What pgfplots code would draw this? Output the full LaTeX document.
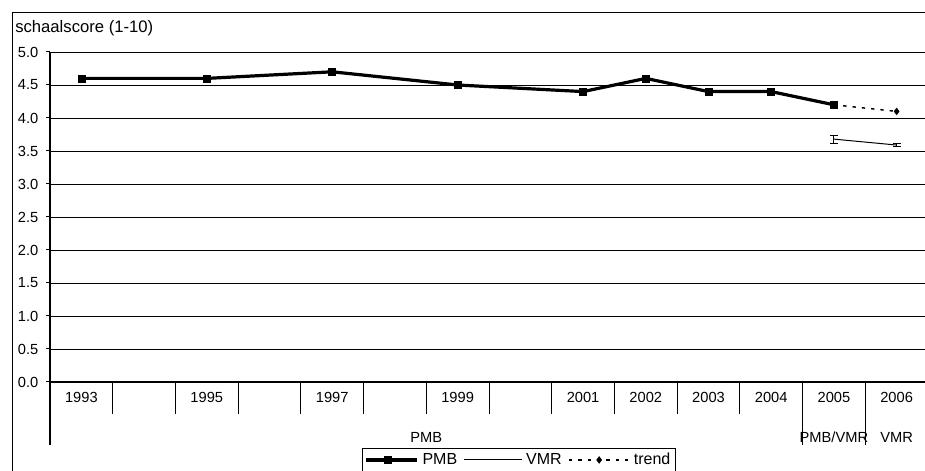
\documentclass[border=0pt]{standalone}
\usepackage{pgfplots}
\pgfplotsset{compat=1.18}
\usepackage{fontspec}
\setmainfont{Liberation Sans}
\begin{document}
\begin{tikzpicture}
% one pixel of the reference = 0.75pt
\path[use as bounding box] (0pt,0pt) rectangle (693.75pt,353.25pt);
% outer chart frame (right and bottom edges fall outside the picture)
\draw[line width=0.75pt] (9pt,-10pt) -- (9pt,343.5pt) -- (710pt,343.5pt);
\node[anchor=west, font=\fontsize{12.5}{14}\selectfont, inner sep=0pt] at (11.25pt,332.25pt) {schaalscore (1-10)};
\begin{axis}[
    at={(37.5pt,66.75pt)}, anchor=south west,
    scale only axis, width=658.5pt, height=247.5pt,
    xmin=-0.5, xmax=13.5, ymin=0, ymax=5,
    axis x line*=bottom, axis y line*=left,
    axis line style={line width=0.75pt},
    tick align=outside,
    major tick length=24pt, minor tick length=3pt,
    xtick={-0.5,0.5,1.5,2.5,3.5,4.5,5.5,6.5,7.5,8.5,9.5,10.5,11.5,12.5,13.5},
    x tick label as interval,
    xticklabels={1993,,1995,,1997,,1999,,2001,2002,2003,2004,2005,2006},
    xticklabel style={yshift=19.5pt},
    extra x ticks={-0.5,11.5,12.5}, extra x tick labels={},
    extra x tick style={major tick length=47.25pt},
    ytick={0,0.5,...,5}, minor ytick={0,0.5,...,5},
    major y tick style={draw=none},
    yticklabel style={xshift=18.75pt},
    tick style={line width=0.75pt, black},
    ymajorgrids, grid style={black, line width=0.6pt},
    yticklabel style={/pgf/number format/.cd, fixed, fixed zerofill, precision=1, assume math mode=true},
    ticklabel style={font=\fontsize{11}{13}\selectfont},
    legend style={at={(0.534,-0.2)}, anchor=north, draw=black, line width=0.75pt,
        legend columns=-1, font=\fontsize{12}{14}\selectfont,
        inner xsep=2pt, inner ysep=1.5pt,
        /tikz/every odd column/.append style={column sep=1pt},
        /tikz/every even column/.append style={column sep=3pt}},
    legend cell align=left,
    clip=false,
]
\addplot[black, line width=2.4pt, mark=square*, mark size=2.6pt, mark options={line width=0.4pt},
    legend image code/.code={\draw[mark repeat=2, mark phase=2] plot coordinates {(0pt,0pt) (16pt,0pt) (38pt,0pt)};}]
    coordinates {(0,4.6) (2,4.6) (4,4.7) (6,4.5) (8,4.4) (9,4.6) (10,4.4) (11,4.4) (12,4.2)};
\addlegendentry{PMB}
\addplot[black, line width=0.75pt, mark=none,
    legend image code/.code={\draw (0pt,0pt) -- (43pt,0pt);},
    error bars/.cd, y dir=both, y explicit,
    error mark options={rotate=90, mark size=3pt, line width=0.75pt},
    error bar style={line width=0.75pt}]
    coordinates {(12,3.68) +- (0,0.06) (13,3.59) +- (0,0.025)};
\addlegendentry{VMR}
\addlegendimage{black, line width=1.1pt, dash pattern=on 2.5pt off 4.5pt, mark=diamond*, mark size=2.5pt, mark options={solid, line width=0.4pt},
    legend image code/.code={\draw[mark repeat=2, mark phase=2] plot coordinates {(0pt,0pt) (22.5pt,0pt) (45pt,0pt)};}}
\addlegendentry{trend}
\addplot[forget plot, black, line width=1.1pt, dash pattern=on 2.5pt off 4.5pt, mark=diamond*, mark size=2.5pt,
    mark options={solid, line width=0.4pt}, mark indices={2}]
    coordinates {(12,4.2) (13,4.1)};
\node[font=\fontsize{11}{13}\selectfont] at (axis cs:5.5,0) [yshift=-41.25pt] {PMB};
\node[font=\fontsize{11}{13}\selectfont] at (axis cs:12,0) [yshift=-41.25pt] {PMB/VMR};
\node[font=\fontsize{11}{13}\selectfont] at (axis cs:13,0) [yshift=-41.25pt] {VMR};
\end{axis}
\end{tikzpicture}
\end{document}
